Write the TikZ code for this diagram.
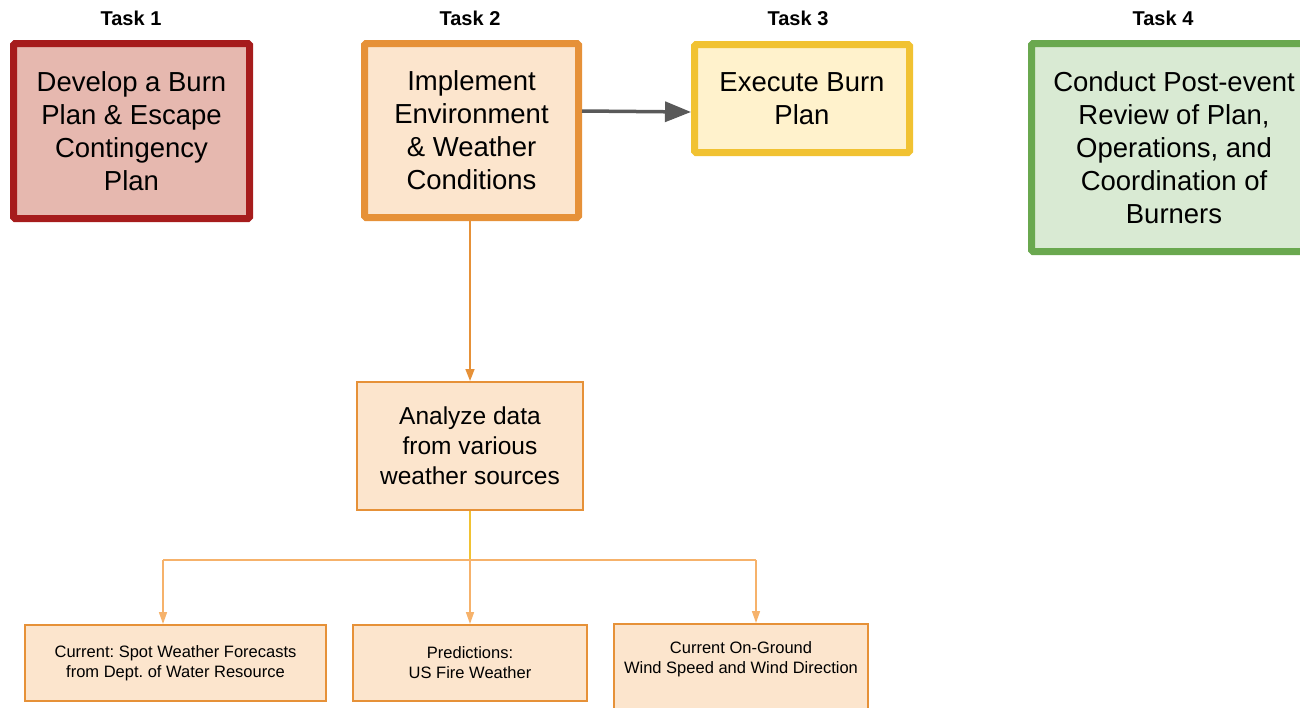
\documentclass[tikz,border=0pt]{standalone}
\usepackage{fontspec}
\setmainfont{Liberation Sans}
\usetikzlibrary{arrows.meta}
\frenchspacing

\definecolor{planred}{HTML}{A61C1C}
\definecolor{planfill}{HTML}{E6B8AF}
\definecolor{envorange}{HTML}{E69138}
\definecolor{envfill}{HTML}{FCE5CD}
\definecolor{execyellow}{HTML}{F1C232}
\definecolor{execfill}{HTML}{FFF2CC}
\definecolor{revgreen}{HTML}{6AA84F}
\definecolor{revfill}{HTML}{D9EAD3}
\definecolor{linkgray}{HTML}{595959}
\definecolor{feedorange}{HTML}{F6B26B}

\tikzset{
  tasklabel/.style={font=\bfseries\fontsize{20}{22}\selectfont},
  taskbox/.style={draw, line width=7pt, rounded corners=1.5pt, align=center,
    inner sep=0pt, font=\fontsize{27.5}{33}\selectfont},
  databox/.style={draw=envorange, fill=envfill, line width=2pt, align=center,
    inner sep=0pt, minimum width=226, minimum height=128,
    font=\fontsize{24.5}{30}\selectfont},
  sourcebox/.style={draw=envorange, fill=envfill, line width=2pt, align=center,
    inner sep=0pt, font=\fontsize{16.5}{20}\selectfont},
  feed/.style={draw=feedorange, line width=1.6pt},
}

\begin{document}
\begin{tikzpicture}[x=1pt, y=-1pt]
  \useasboundingbox (0,0) rectangle (1300,707);
  \clip (0,0) rectangle (1300,707);

  % task headings
  \node[tasklabel] (lab1) at (131,18) {Task 1};
  \node[tasklabel] (lab2) at (470,18) {Task 2};
  \node[tasklabel] (lab3) at (798,18) {Task 3};
  \node[tasklabel] (lab4) at (1163,18) {Task 4};

  % task boxes
  \node[taskbox, draw=planred, fill=planfill, minimum width=236, minimum height=175]
    (plan) at (131.5,131) {Develop a Burn\\Plan \& Escape\\Contingency\\Plan};
  \node[taskbox, draw=envorange, fill=envfill, minimum width=214, minimum height=174]
    (env) at (471.5,130.5) {Implement\\Environment\\\& Weather\\Conditions};
  \node[taskbox, draw=execyellow, fill=execfill, minimum width=215, minimum height=108]
    (exec) at (802,98.5) {Execute Burn\\Plan};
  \node[taskbox, draw=revgreen, fill=revfill, minimum width=285, minimum height=208]
    (review) at (1174,147.5) {Conduct Post-event\\Review of Plan,\\Operations, and\\Coordination of\\Burners};

  \draw[linkgray, line width=3.5pt, -{Triangle[length=26pt, width=20pt]}]
    (env.east |- 0,111) -- (exec.west |- 0,112);

  % weather data
  \node[databox] (analyze) at (470,446) {Analyze data\\from various\\weather sources};
  \draw[envorange, line width=1.6pt, -{Triangle[length=12pt, width=9pt]}]
    (analyze.north |- env.south) -- (analyze.north);

  \node[sourcebox, minimum width=301, minimum height=76] (spot) at (175.5,663)
    {Current: Spot Weather Forecasts\\from Dept. of Water Resource};
  \node[sourcebox, minimum width=234, minimum height=76] (fire) at (470,663)
    {Predictions:\\US Fire Weather};
  \node[sourcebox, minimum width=254, minimum height=92] (wind) at (741,670)
    {Current On-Ground\\Wind Speed and Wind Direction\\[4pt]\mbox{}};

  \coordinate (hub) at (470,560);
  \coordinate (hubL) at (163,560);
  \coordinate (hubR) at (756,560);

  \draw[execyellow, line width=1.6pt] (analyze.south) -- (hub);
  \draw[feed] (hubL) -- (hubR);
  \foreach \src/\dst in {hubL/spot, hub/fire, hubR/wind}
    \draw[feed, -{Triangle[length=12pt, width=8pt]}] (\src) -- (\src |- \dst.north);
\end{tikzpicture}
\end{document}
